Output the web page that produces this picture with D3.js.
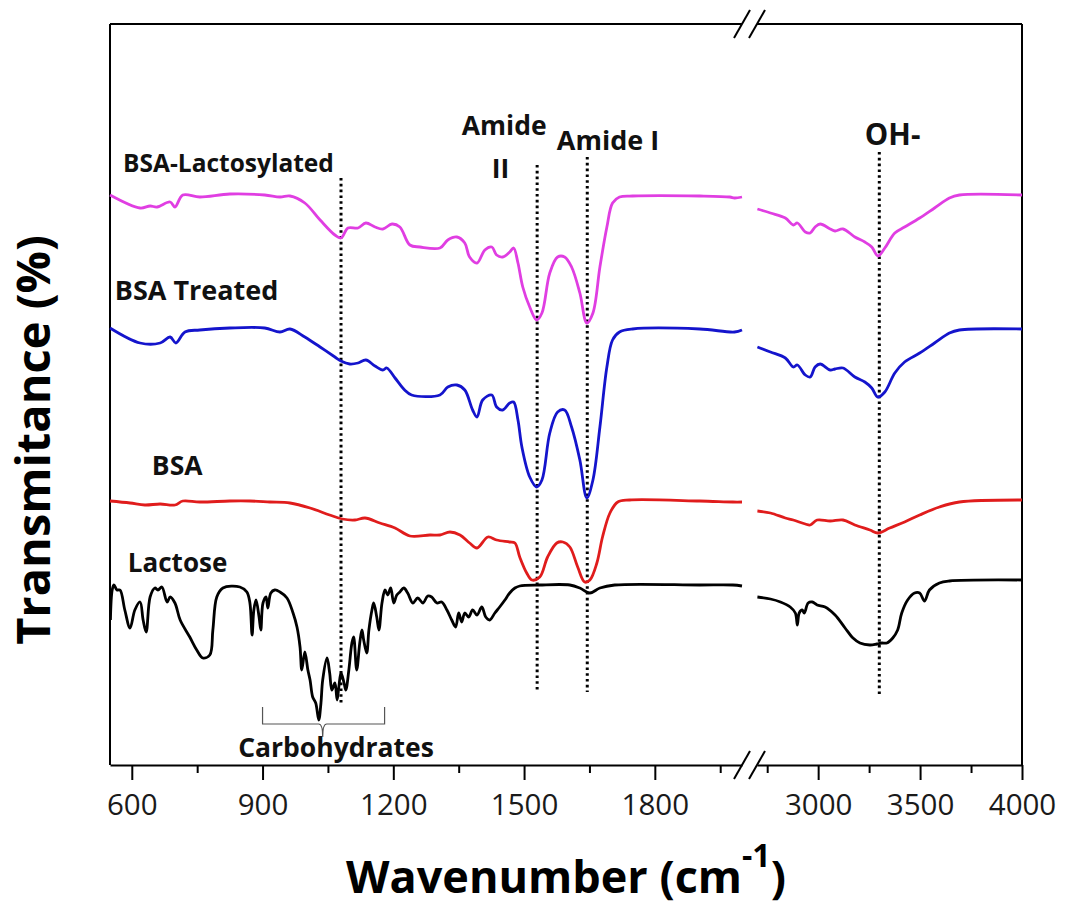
<!DOCTYPE html>
<html>
<head>
<meta charset="utf-8">
<script src="https://cdn.jsdelivr.net/npm/d3@7/dist/d3.min.js"></script>
<style>
  html, body { margin: 0; padding: 0; background: #fff; }
  svg { display: block; font-family: "Open Sans", Lato, sans-serif; }
</style>
</head>
<body>
<svg id="chart" width="1065" height="907"></svg>
<script>
// FTIR spectra, wavenumber (cm-1) vs. stacked transmittance (arbitrary offset units)

// BSA-Lactosylated
const lacBsaWn = [550,619,642,658,688,699,717,756,825,905,940,963,997,1032,1066,1080,1096,1119,1137,1158,1176,1197,1215,1238,1261,1307,1325,1346,1364,1375,1392,1410,1426,1437,1451,1467,1476,1486,1497,1513,1529,1541,1559,1577,1593,1609,1628,1644,1658,1674,1690,1703,1719,1749,1903,1972,1983,2000,
  2702,2766,2839,2878,2898,2937,2961,2985,3010,3059,3083,3122,3180,3229,3263,3293,3327,3376,3424,3498,3571,3644,3693,4000];
const lacBsaT = [57.0,55.7,55.9,55.8,56.3,55.8,57.0,56.8,57.1,57.0,56.8,56.9,56.2,54.5,53.0,52.7,53.7,53.7,54.2,53.8,53.6,54.1,53.8,52.0,51.8,51.7,52.5,52.8,52.2,50.8,50.2,51.5,51.8,51.0,50.8,51.3,51.7,50.2,47.8,45.8,44.5,45.2,49.2,50.8,50.8,49.8,47.2,44.2,45.2,49.8,53.8,56.2,56.8,56.9,56.9,56.8,56.7,56.8,
  55.6,55.2,54.7,54.0,54.2,53.3,53.2,53.8,54.1,53.6,53.4,53.6,52.8,52.3,51.8,50.9,51.7,53.2,53.8,54.7,55.7,56.7,57.0,57.0];

// BSA Treated
const treatedWn = [550,619,665,688,701,722,756,825,905,940,963,997,1032,1066,1080,1100,1119,1137,1158,1176,1185,1204,1226,1242,1307,1325,1346,1364,1382,1392,1405,1426,1437,1451,1467,1476,1486,1495,1513,1529,1541,1559,1577,1593,1609,1628,1644,1658,1674,1690,1703,1719,1749,1903,1983,2000,
  2702,2766,2839,2878,2898,2937,2961,2985,3010,3059,3083,3122,3180,3229,3263,3293,3327,3376,3424,3498,3571,3644,3693,4000];
const treatedT = [43.7,42.2,42.2,42.8,42.2,43.3,43.5,43.7,43.7,43.3,43.6,42.8,41.8,40.8,40.4,40.1,40.2,40.5,39.9,39.5,39.7,38.7,37.5,37.0,37.0,37.8,38.0,37.5,35.5,34.8,36.5,37.0,35.8,35.5,36.2,36.3,34.5,31.8,28.8,27.8,28.5,33.2,35.3,35.5,33.8,30.5,26.7,28.5,33.8,39.8,42.5,43.3,43.6,43.6,43.3,43.5,
  41.8,41.3,40.7,39.8,40.0,39.0,38.8,39.8,40.1,39.5,39.6,39.7,38.8,38.3,37.7,36.8,37.3,39.2,40.3,41.2,42.2,43.2,43.5,43.6];

// BSA
const bsaWn = [550,596,630,665,699,717,756,825,871,917,963,1009,1054,1083,1112,1135,1169,1204,1238,1284,1307,1330,1353,1375,1392,1417,1437,1467,1479,1490,1506,1518,1536,1554,1575,1589,1605,1623,1639,1651,1667,1680,1697,1715,1742,1903,1979,2000,
  2702,2766,2839,2878,2937,2961,2995,3059,3122,3180,3254,3293,3351,3424,3498,3595,3693,4000];
const bsaT = [26.4,26.2,26.0,26.1,26.0,26.4,26.3,26.4,26.4,26.3,26.2,25.7,25.0,24.6,24.5,24.7,24.2,23.7,22.9,23.0,23.0,23.3,23.0,22.2,21.7,22.8,22.5,22.3,22.2,20.8,19.2,18.5,18.8,20.8,22.2,22.3,21.8,19.8,18.3,18.5,20.2,22.8,25.2,26.3,26.5,26.4,26.3,26.3,
  25.4,25.2,24.7,24.5,24.1,24.0,24.5,24.4,24.5,24.0,23.5,23.2,23.7,24.3,25.0,25.8,26.3,26.5];

// Lactose
const lactoseWn = [551,555,559,566,573,584,596,607,619,626,633,642,653,660,669,681,688,699,711,733,749,763,779,786,795,809,848,864,871,876,880,885,892,896,901,908,912,919,928,940,956,970,979,986,990,997,1004,1009,1015,1022,1029,1034,1038,1048,1054,1059,1066,1071,1075,1080,1087,1091,1098,1105,1109,1116,1123,1128,1132,1139,1144,1151,1155,1162,1167,1174,1181,1187,1194,1201,1208,1215,1224,1233,1245,1256,1268,1279,1288,1300,1311,1323,1334,1343,1350,1357,1364,1373,1382,1392,1403,1412,1421,1433,1444,1456,1467,1479,1490,1536,1605,1628,1651,1674,1708,1903,1979,2000,
  2702,2766,2815,2863,2888,2898,2907,2922,2932,2951,2971,2995,3034,3083,3132,3171,3205,3254,3288,3312,3337,3366,3390,3410,3439,3473,3498,3522,3546,3595,3644,4000];
const lactoseT = [14.5,17.5,18.0,17.5,17.5,15.5,13.7,15.5,16.3,14.5,13.3,16.8,17.7,17.5,17.8,16.3,16.8,16.2,14.5,12.8,11.5,10.7,11.0,13.5,16.8,17.7,17.8,17.3,16.2,13.0,15.5,16.5,14.8,13.5,16.2,16.8,15.7,17.2,17.5,17.3,16.7,15.2,13.8,11.8,9.5,11.3,9.5,8.5,6.8,6.2,4.5,6.2,8.5,10.7,9.2,7.5,8.2,6.5,7.8,9.2,8.2,7.5,9.5,12.2,12.8,9.5,12.2,13.5,12.5,11.2,13.5,15.5,16.2,14.8,13.5,16.2,17.5,17.0,17.7,16.2,17.0,17.3,17.7,17.2,16.2,16.7,16.2,16.9,16.8,16.2,16.3,15.5,14.5,13.8,15.2,14.3,15.2,14.8,15.5,15.0,15.8,14.8,14.5,15.2,15.8,16.5,17.2,17.7,17.9,18.0,18.0,17.7,17.2,17.7,18.0,18.0,18.0,17.9,
  16.8,16.6,16.3,15.8,15.2,14.0,15.2,15.5,15.2,16.2,16.3,16.0,15.8,15.0,13.7,12.7,12.2,12.0,12.1,12.2,12.2,12.7,13.5,15.2,16.5,17.2,17.2,16.4,17.5,18.2,18.4,18.5];

// Series names and colours
const seriesNames = ["BSA-Lactosylated", "BSA Treated", "BSA", "Lactose"];
const seriesColors = ["#e03ee2", "#1414cc", "#e01c1c", "#000000"];

// Reference band positions (cm-1)
const bandNames = ["", "Amide II", "Amide I", "OH-"];
const bandWn = [1080, 1530, 1645, 3300];

// Axis ticks
const leftMajor = [600, 900, 1200, 1500, 1800];
const leftMinor = [750, 1050, 1350, 1650, 1950];
const rightMajor = [3000, 3500, 4000];
const rightMinor = [2750, 3250, 3750];

const svg = d3.select("#chart");
const plot = { left: 110, right: 1022, top: 24, bottom: 765, breakL: 742, breakR: 757 };

const xL = d3.scaleLinear().domain([550, 2000]).range([plot.left, plot.breakL]);
const xR = d3.scaleLinear().domain([2700, 4000]).range([plot.breakR, plot.right]);
const y = d3.scaleLinear().domain([0, 74.1]).range([plot.bottom, plot.top]);
const xAny = w => (w <= 2000 ? xL(w) : xR(w));

// Frame: left/right verticals and top segments
const frame = svg.append("g").attr("stroke", "#000").attr("stroke-width", 2).attr("fill", "none");
frame.append("line").attr("x1", plot.left).attr("x2", plot.left).attr("y1", plot.top).attr("y2", plot.bottom);
frame.append("line").attr("x1", plot.right).attr("x2", plot.right).attr("y1", plot.top).attr("y2", plot.bottom);
frame.append("line").attr("x1", plot.left).attr("x2", plot.breakL).attr("y1", plot.top).attr("y2", plot.top);
frame.append("line").attr("x1", plot.breakR).attr("x2", plot.right).attr("y1", plot.top).attr("y2", plot.top);

// Bottom axes for each segment
function drawAxis(scale, major, minor) {
  const gMaj = svg.append("g")
    .attr("transform", `translate(0,${plot.bottom})`)
    .call(d3.axisBottom(scale).tickValues(major).tickSize(15).tickSizeOuter(0).tickFormat(d3.format("d")));
  gMaj.select(".domain").attr("stroke-width", 2);
  gMaj.selectAll(".tick line").attr("stroke-width", 2);
  gMaj.selectAll(".tick text")
    .attr("y", 50).attr("dy", 0)
    .attr("font-size", 29.5).attr("font-family", "'Open Sans', sans-serif").attr("fill", "#1a1a1a");
  const gMin = svg.append("g")
    .attr("transform", `translate(0,${plot.bottom})`)
    .call(d3.axisBottom(scale).tickValues(minor).tickSize(8).tickSizeOuter(0).tickFormat(""));
  gMin.select(".domain").remove();
  gMin.selectAll(".tick line").attr("stroke-width", 2);
}
drawAxis(xL, leftMajor, leftMinor);
drawAxis(xR, rightMajor, rightMinor);

// Axis-break marks
const breaks = svg.append("g").attr("stroke", "#000").attr("stroke-width", 2);
[plot.breakL, plot.breakR].forEach(bx => {
  [plot.top, plot.bottom].forEach(by => {
    breaks.append("line").attr("x1", bx - 8).attr("y1", by + 14).attr("x2", bx + 8).attr("y2", by - 14);
  });
});

// Dotted band markers
const bandTop = [58.7, 60.0, 60.8, 61.3];
const bandBottom = [6.0, 7.3, 7.3, 6.8];
svg.append("g").selectAll("line").data(bandWn).join("line")
  .attr("x1", d => xAny(d)).attr("x2", d => xAny(d))
  .attr("y1", (d, i) => y(bandTop[i])).attr("y2", (d, i) => y(bandBottom[i]))
  .attr("stroke", "#000").attr("stroke-width", 3)
  .attr("stroke-dasharray", "2.6,3.2");

// Spectra
const series = [
  { wn: lacBsaWn, t: lacBsaT },
  { wn: treatedWn, t: treatedT },
  { wn: bsaWn, t: bsaT },
  { wn: lactoseWn, t: lactoseT }
];
const lineL = d3.line().x(d => xL(d[0])).y(d => y(d[1])).curve(d3.curveCatmullRom.alpha(0.5));
const lineR = d3.line().x(d => xR(d[0])).y(d => y(d[1])).curve(d3.curveCatmullRom.alpha(0.5));
const gSpec = svg.append("g").attr("fill", "none").attr("stroke-width", 2.8).attr("stroke-linejoin", "round");
series.forEach((s, i) => {
  const pts = s.wn.map((w, k) => [w, s.t[k]]);
  gSpec.append("path").attr("d", lineL(pts.filter(p => p[0] <= 2000))).attr("stroke", seriesColors[i]);
  gSpec.append("path").attr("d", lineR(pts.filter(p => p[0] >= 2700))).attr("stroke", seriesColors[i]);
});

// Series labels
const labelPos = [[580, 59.3], [561, 46.5], [646, 29.0], [591, 19.3]];
const labelSize = [24.5, 27, 26.5, 26];
const labels = svg.append("g").attr("font-weight", 700).attr("fill", "#111");
seriesNames.forEach((name, i) => {
  labels.append("text").attr("x", xL(labelPos[i][0])).attr("y", y(labelPos[i][1]))
    .attr("font-size", labelSize[i]).text(name);
});

// Band labels
labels.append("text").attr("x", xL(1357)).attr("y", y(63.0)).attr("font-size", 26.5).text("Amide");
labels.append("text").attr("x", xL(1426)).attr("y", y(58.7)).attr("font-size", 26.5).text("II");
labels.append("text").attr("x", xL(1575)).attr("y", y(61.5)).attr("font-size", 27).text(bandNames[2]);
labels.append("text").attr("x", xR(3229)).attr("y", y(62.0)).attr("font-size", 29.5).text(bandNames[3]);

// Carbohydrate region bracket
const bx0 = xL(900), bx1 = xL(1180), bxm = xL(1038);
const byTop = y(5.8), byMid = y(4.1), byTip = y(2.8);
svg.append("path")
  .attr("d", `M${bx0},${byTop}V${byMid}H${bxm - 4}Q${bxm},${byMid} ${bxm},${byTip}Q${bxm},${byMid} ${bxm + 4},${byMid}H${bx1}V${byTop}`)
  .attr("fill", "none").attr("stroke", "#555").attr("stroke-width", 1.2);
labels.append("text").attr("x", xL(844)).attr("y", y(0.8)).attr("font-size", 26.5).text("Carbohydrates");

// Axis titles
const xt = svg.append("text")
  .attr("x", (plot.left + plot.right) / 2).attr("y", 893)
  .attr("text-anchor", "middle").attr("font-weight", 700).attr("font-size", 45).attr("fill", "#000");
xt.append("tspan").text("Wavenumber (cm");
xt.append("tspan").attr("font-size", 32).attr("dy", -26).text("-1");
xt.append("tspan").attr("dy", 26).text(")");

svg.append("text")
  .attr("transform", "translate(50,440) rotate(-90)")
  .attr("text-anchor", "middle").attr("font-weight", 700).attr("font-size", 47).attr("fill", "#000")
  .text("Transmitance (%)");
</script>
</body>
</html>
